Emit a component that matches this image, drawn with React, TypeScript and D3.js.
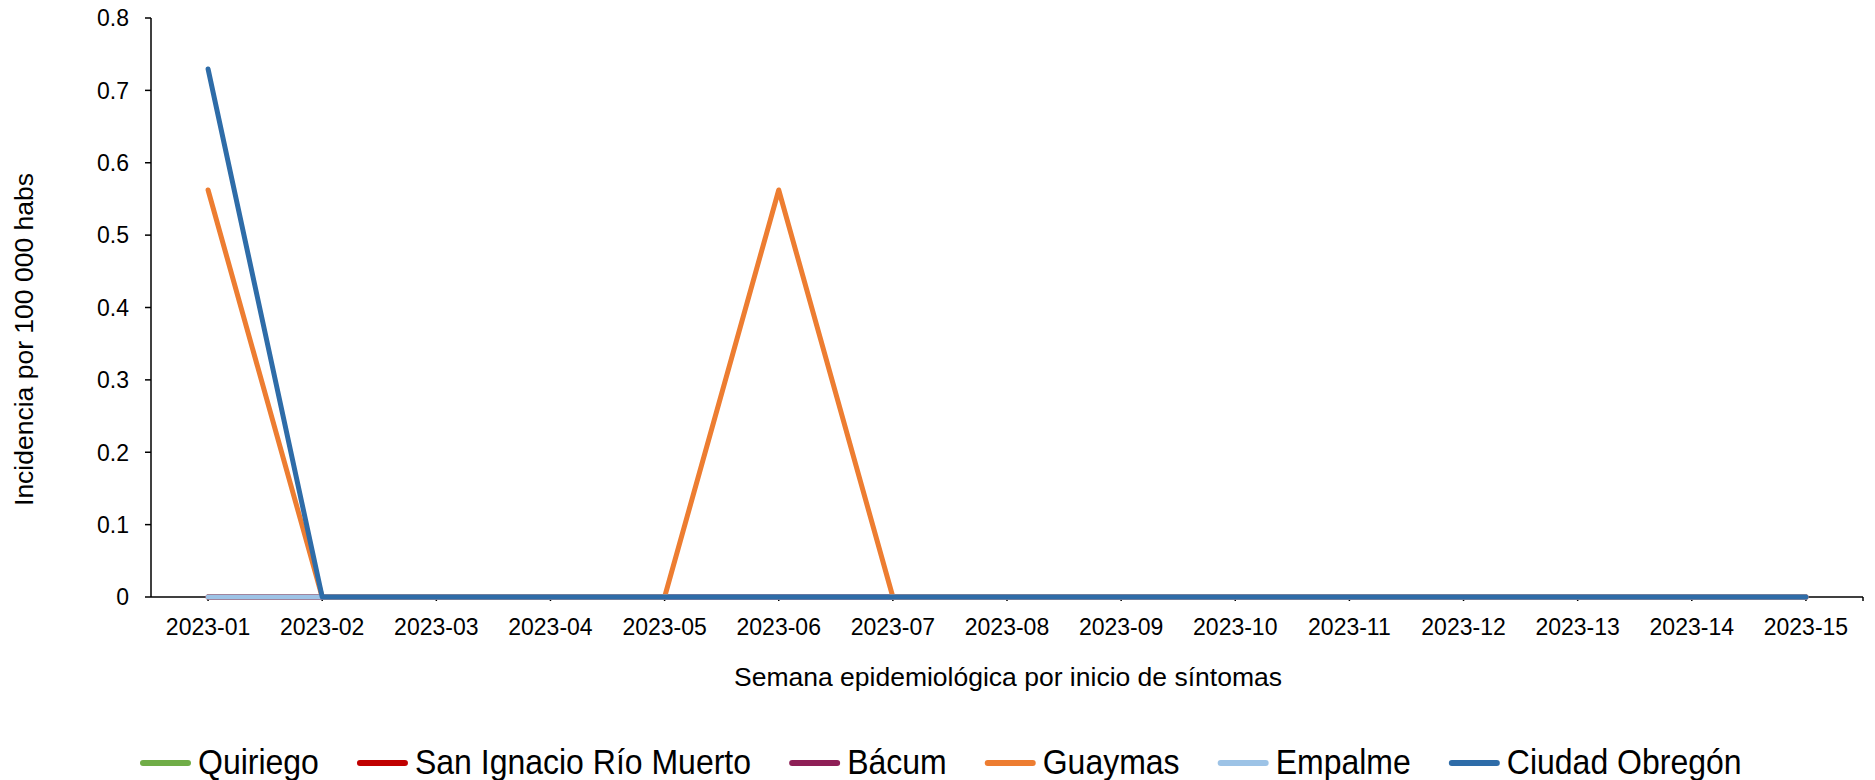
import React, { useMemo } from "react";
import * as d3 from "d3";

const weeks = [
  "2023-01", "2023-02", "2023-03", "2023-04", "2023-05", "2023-06", "2023-07", "2023-08",
  "2023-09", "2023-10", "2023-11", "2023-12", "2023-13", "2023-14", "2023-15",
];

const quiriego = [0, 0, 0, 0, 0, 0, 0, 0, 0, 0, 0, 0, 0, 0, 0];
const sanIgnacio = [0, 0, 0, 0, 0, 0, 0, 0, 0, 0, 0, 0, 0, 0, 0];
const bacum = [0, 0, 0, 0, 0, 0, 0, 0, 0, 0, 0, 0, 0, 0, 0];
const guaymas = [0.5624, 0, 0, 0, 0, 0.5624, 0, 0, 0, 0, 0, 0, 0, 0, 0];
const empalme = [0, 0, 0, 0, 0, 0, 0, 0, 0, 0, 0, 0, 0, 0, 0];
const ciudadObregon = [0.7295, 0, 0, 0, 0, 0, 0, 0, 0, 0, 0, 0, 0, 0, 0];

const seriesNames = ["Quiriego", "San Ignacio Río Muerto", "Bácum", "Guaymas", "Empalme", "Ciudad Obregón"];
const seriesValues = [quiriego, sanIgnacio, bacum, guaymas, empalme, ciudadObregon];
const seriesColors = ["#70AD47", "#C00000", "#8E1F56", "#ED7D31", "#9DC3E6", "#2E6CA8"];

const yTicks = [0, 0.1, 0.2, 0.3, 0.4, 0.5, 0.6, 0.7, 0.8];

const W = 1875;
const H = 780;
const FONT = "'Liberation Sans', Arial, sans-serif";

export default function App() {
  const left = 151;
  const right = 1863;
  const top = 18;
  const bottom = 597;

  const x = d3.scaleBand<string>().domain(weeks).range([left, right]).padding(0);
  const y = d3.scaleLinear().domain([0, 0.8]).range([bottom, top]);
  const cx = (w: string) => (x(w) as number) + x.bandwidth() / 2;

  const line = d3
    .line<number>()
    .x((_, i) => cx(weeks[i]))
    .y((v) => y(v));

  const legendFont = 32;
  const legendItems = useMemo(() => {
    const canvas = document.createElement("canvas");
    const ctx = canvas.getContext("2d")!;
    ctx.font = `${legendFont}px 'Liberation Sans'`;
    let pos = 140;
    return seriesNames.map((name, i) => {
      const tw = ctx.measureText(name).width;
      const item = { name, color: seriesColors[i], x0: pos, x1: pos + 51, tx: pos + 58 };
      pos = pos + 58 + tw + 38;
      return item;
    });
  }, []);

  const legendY = 763;

  return (
    <svg
      width={W}
      height={H}
      style={{ position: "absolute", left: 0, top: 0, background: "#fff" }}
      fontFamily={FONT}
    >
      <rect x={0} y={0} width={W} height={H} fill="#fff" />

      {/* y axis */}
      <line x1={left} x2={left} y1={top} y2={bottom} stroke="#000" strokeWidth={1.5} />
      {yTicks.map((t) => (
        <g key={t}>
          <line x1={left - 6} x2={left} y1={y(t)} y2={y(t)} stroke="#000" strokeWidth={1.5} />
          <text x={left - 22} y={y(t)} dy="0.36em" textAnchor="end" fontSize={23} fill="#000">
            {d3.format("")(+t.toFixed(1))}
          </text>
        </g>
      ))}

      {/* x axis */}
      <line x1={left} x2={right} y1={bottom} y2={bottom} stroke="#000" strokeWidth={1.5} />
      {weeks.map((w) => (
        <g key={w}>
          <line x1={cx(w)} x2={cx(w)} y1={bottom} y2={bottom + 4} stroke="#000" strokeWidth={1.5} />
          <text x={cx(w)} y={635} textAnchor="middle" fontSize={23} fill="#000">
            {w}
          </text>
        </g>
      ))}
      <line x1={right} x2={right} y1={bottom} y2={bottom + 4} stroke="#000" strokeWidth={1.5} />

      {/* axis titles */}
      <text
        transform={`translate(33, ${(top + bottom) / 2 + 32}) rotate(-90)`}
        textAnchor="middle"
        fontSize={26.5}
        fill="#000"
      >
        Incidencia por 100 000 habs
      </text>
      <text x={1008} y={686} textAnchor="middle" fontSize={26.5} fill="#000">
        Semana epidemiológica por inicio de síntomas
      </text>

      {/* series */}
      {seriesValues.map((vals, i) => (
        <path
          key={seriesNames[i]}
          d={line(vals) || ""}
          fill="none"
          stroke={seriesColors[i]}
          strokeWidth={5}
          strokeLinecap="round"
          strokeLinejoin="round"
        />
      ))}

      {/* legend */}
      {legendItems.map((it) => (
        <g key={it.name}>
          <line
            x1={it.x0 + 3}
            x2={it.x1 - 3}
            y1={legendY}
            y2={legendY}
            stroke={it.color}
            strokeWidth={6}
            strokeLinecap="round"
          />
          <text
            transform={`translate(${it.tx}, ${legendY + 11}) scale(1, 1.1)`}
            fontSize={legendFont}
            fill="#000"
          >
            {it.name}
          </text>
        </g>
      ))}
    </svg>
  );
}
